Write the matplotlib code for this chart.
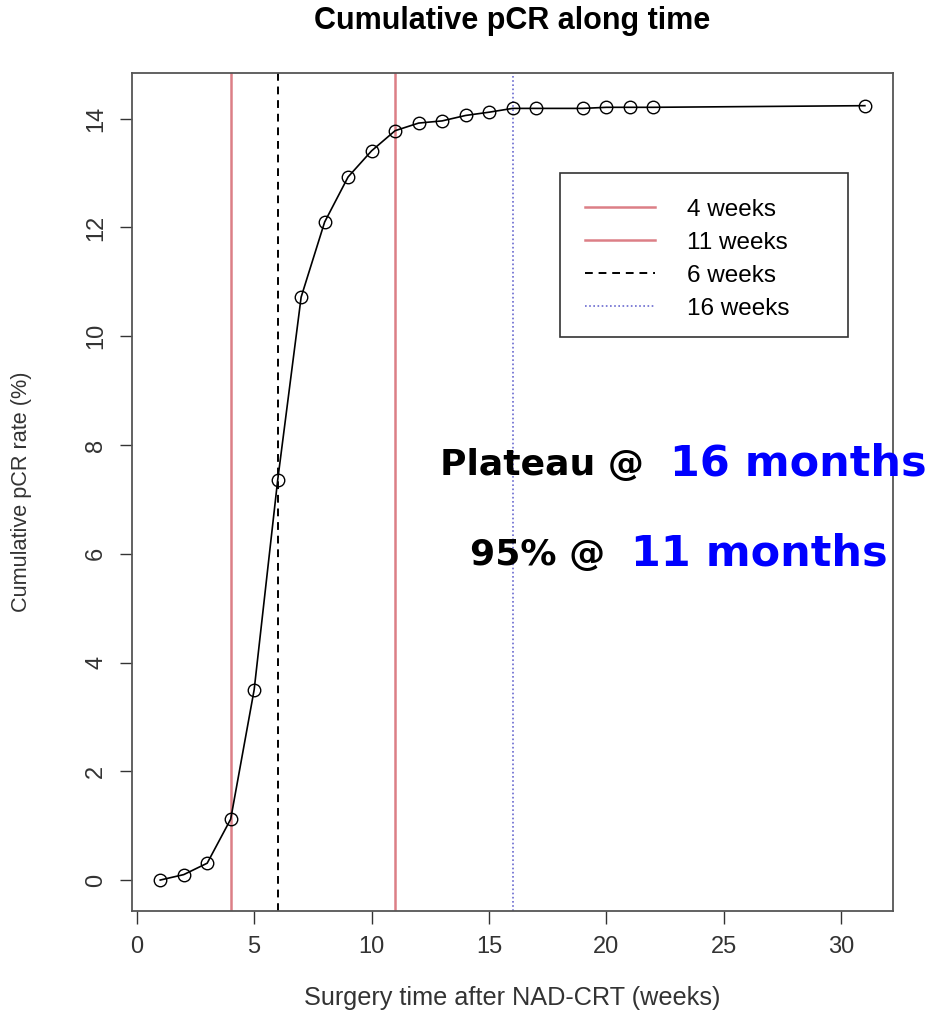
import numpy as np
import matplotlib.pyplot as plt
from matplotlib.patches import Rectangle

# Cumulative pCR rate (%) by week of surgery after NAD-CRT
weeks = [1, 2, 3, 4, 5, 6, 7, 8, 9, 10, 11, 12, 13, 14, 15, 16, 17, 19, 20, 21, 22, 31]
pcr_rate = [0.0, 0.1, 0.31, 1.12, 3.5, 7.35, 10.72, 12.1, 12.93, 13.41, 13.78,
            13.92, 13.96, 14.06, 14.12, 14.19, 14.19, 14.19, 14.21, 14.21, 14.21, 14.24]

# reference lines
ref_weeks = [4, 11, 6, 16]
ref_labels = ['4 weeks', '11 weeks', '6 weeks', '16 weeks']
ref_colors = ['#dc7f86', '#dc7f86', 'black', '#6a6ad0']
ref_styles = ['-', '-', (0, (4, 3)), (0, (1, 1.5))]
ref_widths = [1.8, 1.8, 1.4, 1.2]

# annotation lines: (black part, blue part, left x in px, centre y in px)
notes = [('Plateau @', '16 months', 440, 465),
         ('95% @', '11 months', 470, 555)]

plt.rcParams['font.family'] = ['Liberation Sans', 'DejaVu Sans']

W, H = 937, 1016
fig = plt.figure(figsize=(W / 100, H / 100), dpi=100)
ax = fig.add_axes([0.1409, 0.1033, 0.8122, 0.8248])

ax.plot(weeks, pcr_rate, color='black', lw=1.2, marker='o', markersize=9,
        markerfacecolor='none', markeredgecolor='black', markeredgewidth=1.0, zorder=3)

for xv, lab, c, ls, lw in zip(ref_weeks, ref_labels, ref_colors, ref_styles, ref_widths):
    ax.axvline(xv, color=c, linestyle=ls, lw=lw, label=lab, zorder=2)

ax.set_xlim(-0.2, 32.2)
ax.set_ylim(-0.57, 14.84)
ax.set_xticks(np.arange(0, 31, 5))
ax.set_yticks(np.arange(0, 15, 2))
ax.tick_params(direction='out', length=9, width=1.0, labelsize=17, colors='#333333', pad=9)
for lab in ax.get_yticklabels():
    lab.set_rotation(90)
    lab.set_va('center')
for sp in ax.spines.values():
    sp.set_color('#555555')
    sp.set_linewidth(1.3)

ax_mid_y = 0.1033 + 0.8248 / 2
fig.text(0.547, 1 - 21 / H, 'Cumulative pCR along time', fontsize=22, fontweight='bold',
         ha='center', va='center')
fig.text(0.547, 1 - 998 / H, 'Surgery time after NAD-CRT (weeks)', fontsize=18.2,
         color='#333333', ha='center', va='center')
fig.text(22 / W, ax_mid_y, 'Cumulative pCR rate (%)', fontsize=15.6, color='#333333',
         rotation=90, ha='center', va='center')

# legend box drawn separately so its frame can be wider than the entries
leg = ax.legend(loc='upper left', bbox_to_anchor=(0.595, 0.850), fontsize=17.5, frameon=False,
                handlelength=2.9, handletextpad=1.3, borderpad=0.0, labelspacing=0.45,
                borderaxespad=0)
ax.add_patch(Rectangle((0.5625, 0.685), 0.3785, 0.1955, transform=ax.transAxes,
                       facecolor='white', edgecolor='#333333', lw=1.2, zorder=4))
leg.set_zorder(5)

# annotations: black lead-in followed by larger blue value
renderer = fig.canvas.get_renderer()
for black, blue, x0, yc in notes:
    t = fig.text(x0 / W, 1 - yc / H, black, fontsize=26, fontweight='bold', color='black',
                 family=['DejaVu Sans'], ha='left', va='center')
    bb = t.get_window_extent(renderer)
    fig.text((bb.x1 + 26) / W, 1 - (yc - 2) / H, blue, fontsize=31, fontweight='bold',
             color='#0000ff', family=['DejaVu Sans'], ha='left', va='center')

fig.savefig('out.png', dpi=100)
